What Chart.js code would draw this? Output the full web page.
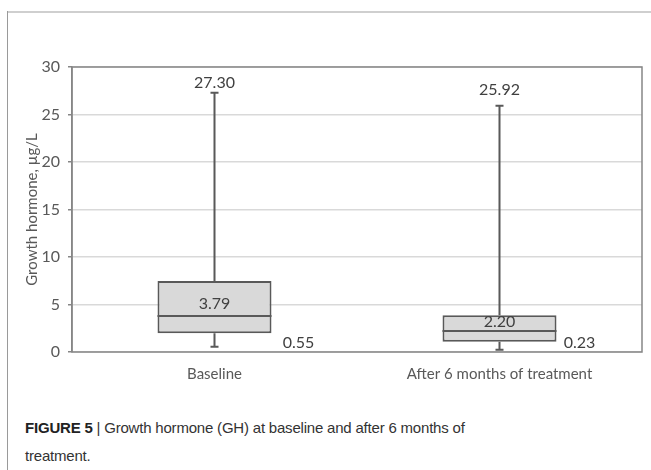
<!DOCTYPE html>
<html>
<head>
<meta charset="utf-8">
<script src="https://cdn.jsdelivr.net/npm/chart.js@4/dist/chart.umd.min.js"></script>
<style>
  html, body { margin: 0; padding: 0; background: #fff; }
  body { width: 651px; height: 470px; position: relative; overflow: hidden; }
  .frame-top { position: absolute; left: 7px; top: 11px; width: 644px; height: 2px; background: #cfcfcf; }
  .frame-left { position: absolute; left: 7px; top: 11px; width: 1px; height: 459px; background: #9a9a9a; }
  .chartBox { position: absolute; left: 8px; top: 13px; width: 643px; height: 380px; }
  .caption {
    position: absolute; left: 25px; top: 414px; width: 460px;
    font-family: "Liberation Sans", Arial, sans-serif; font-size: 15px;
    letter-spacing: -0.2px; line-height: 28px; color: #333;
  }
  .caption b { color: #222; }
</style>
</head>
<body>
<div class="frame-top"></div>
<div class="frame-left"></div>
<div class="chartBox"><canvas id="myChart"></canvas></div>
<div class="caption"><b>FIGURE 5</b> | Growth hormone (GH) at baseline and after 6 months of treatment.</div>
<script>
const categories = ["Baseline", "After 6 months of treatment"];
const minValues = [0.55, 0.23];
const q1Values = [1.97, 1.09];
const medianValues = [3.79, 2.20];
const q3Values = [7.47, 3.86];
const maxValues = [27.30, 25.92];
const yTicks = [0, 5, 10, 15, 20, 25, 30];

const axisGray = "#868686";
const textGray = "#595959";

const boxPlot = {
  id: "boxPlot",
  afterDatasetsDraw(chart, args, opts) {
    const ctx = chart.ctx;
    const y = chart.scales.y;
    const area = chart.chartArea;
    const meta = chart.getDatasetMeta(0);

    // plot border
    ctx.save();
    ctx.strokeStyle = axisGray;
    ctx.lineWidth = 1.5;
    ctx.strokeRect(area.left, area.top, area.right - area.left, area.bottom - area.top);
    ctx.restore();

    ctx.save();
    ctx.strokeStyle = textGray;
    ctx.lineWidth = 2;
    meta.data.forEach((bar, i) => {
      const x = bar.x;
      const half = bar.width / 2;
      const yMax = y.getPixelForValue(maxValues[i]);
      const yMin = y.getPixelForValue(minValues[i]);
      const yQ1 = y.getPixelForValue(q1Values[i]);
      const yQ3 = y.getPixelForValue(q3Values[i]);
      const yMed = y.getPixelForValue(medianValues[i]);
      ctx.beginPath();
      ctx.moveTo(x, yQ3); ctx.lineTo(x, yMax);
      ctx.moveTo(x - 4, yMax); ctx.lineTo(x + 4, yMax);
      ctx.moveTo(x, yQ1); ctx.lineTo(x, yMin);
      ctx.moveTo(x - 4, yMin); ctx.lineTo(x + 4, yMin);
      ctx.moveTo(x - half, yMed); ctx.lineTo(x + half, yMed);
      ctx.stroke();

      ctx.fillStyle = "#404040";
      ctx.font = "16px Lato";
      ctx.textAlign = "center";
      ctx.textBaseline = "middle";
      ctx.fillText(maxValues[i].toFixed(2), x, yMax - opts.maxOffset[i]);
      ctx.fillText(medianValues[i].toFixed(2), x, yMed - opts.medOffset[i]);
      ctx.fillText(minValues[i].toFixed(2), x + opts.minShift[i], yMin - opts.minOffset[i]);
    });
    ctx.restore();
  }
};

new Chart(document.getElementById("myChart"), {
  type: "bar",
  data: {
    labels: categories,
    datasets: [{
      data: q1Values.map((v, i) => [v, q3Values[i]]),
      backgroundColor: "#d9d9d9",
      borderColor: textGray,
      borderWidth: 2,
      borderSkipped: false,
      categoryPercentage: 1,
      barPercentage: 0.4
    }]
  },
  options: {
    responsive: true,
    maintainAspectRatio: false,
    animation: false,
    layout: { padding: { top: 54, right: 9, left: 0, bottom: 0 } },
    plugins: {
      legend: { display: false },
      tooltip: { enabled: false },
      boxPlot: {
        maxOffset: [10, 16],
        medOffset: [12, 9],
        minShift: [84, 80],
        minOffset: [4, 7]
      }
    },
    scales: {
      x: {
        grid: { display: false, drawTicks: false },
        border: { display: false },
        ticks: { color: textGray, font: { family: "Lato", size: 15 }, padding: 13 },
        afterFit: (s) => { s.height = 41; }
      },
      y: {
        min: 0,
        max: 30,
        afterBuildTicks: (s) => { s.ticks = yTicks.map(v => ({ value: v })); },
        grid: { color: "#d9d9d9", tickColor: axisGray, tickLength: 4, lineWidth: 1.5 },
        border: { display: true, color: axisGray, width: 1.5 },
        ticks: { color: textGray, font: { family: "Lato", size: 16 }, padding: 8 },
        title: {
          display: true,
          text: "Growth hormone, µg/L",
          color: textGray,
          font: { family: "Lato", size: 15 },
          padding: { top: 15, bottom: 0 }
        },
        afterFit: (s) => { s.width = 64; }
      }
    }
  },
  plugins: [boxPlot]
});
</script>
</body>
</html>
